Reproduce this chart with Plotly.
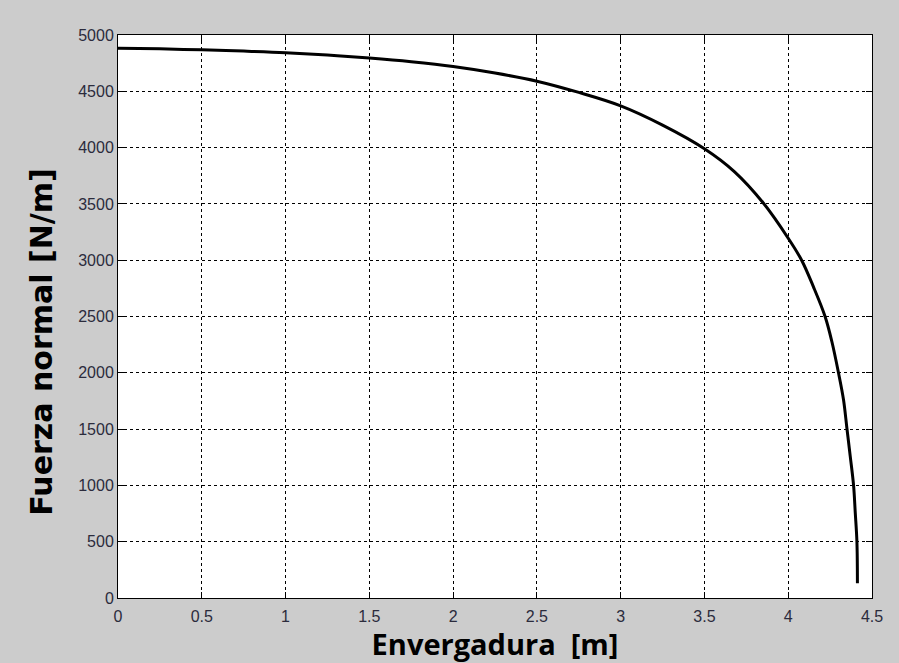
import plotly.graph_objects as go

# Spanwise normal-force distribution
envergadura = [0.0, 0.25, 0.5, 0.75, 1.0, 1.25, 1.5, 1.75, 2.0, 2.25, 2.5, 2.75,
               3.0, 3.25, 3.5, 3.68, 3.85, 4.0, 4.08, 4.15, 4.22, 4.26,
               4.30, 4.33, 4.35, 4.37, 4.39, 4.40, 4.41, 4.413]
fuerza_normal = [4882, 4877, 4868, 4857, 4843, 4822, 4795, 4762, 4720, 4662, 4590, 4490,
                 4371, 4200, 3990, 3785, 3510, 3195, 3000, 2765, 2500, 2280,
                 2000, 1760, 1510, 1260, 1000, 760, 500, 130]

x_ticks = [0, 0.5, 1, 1.5, 2, 2.5, 3, 3.5, 4, 4.5]
x_tick_text = ["0", "0.5", "1", "1.5", "2", "2.5", "3", "3.5", "4", "4.5"]
y_ticks = list(range(0, 5001, 500))

fig = go.Figure()
fig.add_trace(go.Scatter(
    x=envergadura, y=fuerza_normal, mode="lines",
    line=dict(color="black", width=3, shape="spline", smoothing=1.0),
    showlegend=False, hoverinfo="skip",
))

tick_font = dict(family="Liberation Sans, Arial, sans-serif", size=16, color="#2b2b3c")
axis_common = dict(
    showline=True, linecolor="black", linewidth=1, mirror="ticks",
    ticks="inside", ticklen=6, tickcolor="black", tickwidth=1,
    showgrid=True, gridcolor="black", gridwidth=1, griddash="3px,3px",
    zeroline=False, tickfont=tick_font,
)

fig.update_layout(
    width=899, height=663,
    margin=dict(l=118, r=27, t=35, b=65),
    paper_bgcolor="#cccccc", plot_bgcolor="white",
    xaxis=dict(range=[0, 4.5], tickvals=x_ticks, ticktext=x_tick_text,
               ticklabelstandoff=4,
               title=dict(text="Envergadura  [m]", standoff=0,
                          font=dict(family="Open Sans, sans-serif", size=29, color="black",
                                    weight="bold")),
               **axis_common),
    yaxis=dict(range=[0, 5000], tickvals=y_ticks, **axis_common),
)

# Vertical axis label
fig.add_annotation(
    text="Fuerza normal [N/m]", textangle=-90, showarrow=False,
    xref="paper", yref="paper", x=-0.101, y=0.455,
    xanchor="center", yanchor="middle",
    font=dict(family="DejaVu Sans, sans-serif", size=30, color="black", weight="bold"),
)

fig.write_html("out.html")
